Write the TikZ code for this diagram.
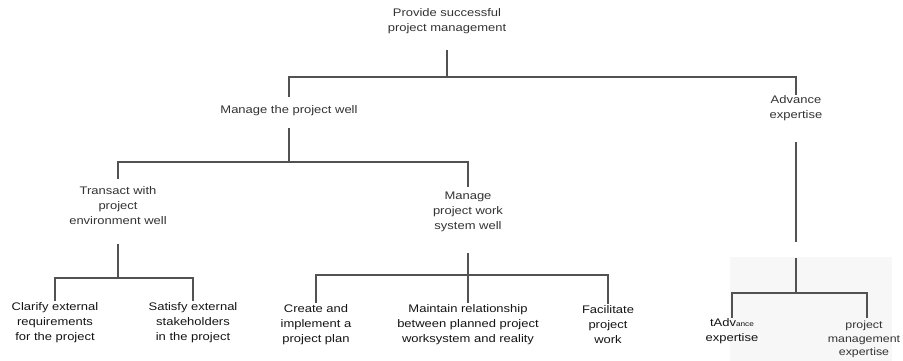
\documentclass[tikz,border=0pt]{standalone}
\usepackage{fontspec}
\setmainfont[FakeStretch=1.18]{Liberation Sans}
\begin{document}
\begin{tikzpicture}[x=1pt,y=-1pt,
  lbl/.style={align=center,inner sep=0pt,font=\fontsize{11}{15}\selectfont,text=black!80},
  leaf/.style={lbl,text=black!92},
  link/.style={draw=black!68,line width=1.1pt}]
\useasboundingbox (0,0) rectangle (903,361);
% pale patch behind the right-hand subtree
\fill[black!3] (730,257) rectangle (892,361);

% goal nodes
\node[lbl] (root) at (447,21.5) {Provide successful\\project management};
\node[lbl] (manage) at (289,111) {Manage the project well};
\node[lbl] (advance) at (796,108.5) {Advance\\expertise};
\node[lbl] (transact) at (118,206) {Transact with\\project\\environment well};
\node[lbl] (mpw) at (468,211.5) {Manage\\project work\\system well};

% leaf nodes
\node[leaf] (clarify) at (55,323) {Clarify external\\requirements\\for the project};
\node[leaf] (satisfy) at (193,323) {Satisfy external\\stakeholders\\in the project};
\node[leaf] (create) at (316,325) {Create and\\implement a\\project plan};
\node[leaf] (maintain) at (468,325) {Maintain relationship\\between planned project\\worksystem and reality};
\node[leaf] (facil) at (608,325) {Facilitate\\project\\work};
\node[leaf] (tadv) at (732,331.5) {tAdv{\fontsize{7}{7}\selectfont ance}\\expertise};
\node[lbl,font=\fontsize{10.5}{13.5}\selectfont] (pme) at (864,339.5) {project\\management\\expertise};

% junctions of the connector bars
\coordinate (bar1) at (447,77);
\coordinate (bar2) at (289,162);
\coordinate (bar3) at (118,278);
\coordinate (bar4) at (468,275);
\coordinate (brk1) at (796,242);
\coordinate (brk2) at (796,258);
\coordinate (bar5) at (796,293);

% level 1
\draw[link] ([yshift=-16pt]root.south) -- (bar1);
\draw[link] ([yshift=9pt]manage.north) |- (bar1) -| ([yshift=1pt]advance.north);
% level 2
\draw[link] ([yshift=-12pt]manage.south) -- (bar2);
\draw[link] ([yshift=8pt]transact.north) |- (bar2) -| ([yshift=4pt]mpw.north);
% level 3, environment
\draw[link] ([yshift=-19pt]transact.south) -- (bar3);
\draw[link] ([yshift=2pt]clarify.north) |- (bar3) -| ([yshift=2pt]satisfy.north);
% level 3, work system
\draw[link] ([yshift=-21pt]mpw.south) -- (bar4);
\draw[link] ([yshift=2pt]create.north) |- (bar4) -| ([yshift=2pt]facil.north);
\draw[link] (bar4) -- ([yshift=2pt]maintain.north);
% expertise branch
\draw[link] ([yshift=-21pt]advance.south) -- (brk1);
\draw[link] (brk2) -- (bar5);
\draw[link] ([yshift=1pt]tadv.north) |- (bar5) -| ([xshift=3pt,yshift=3pt]pme.north);
\end{tikzpicture}
\end{document}
